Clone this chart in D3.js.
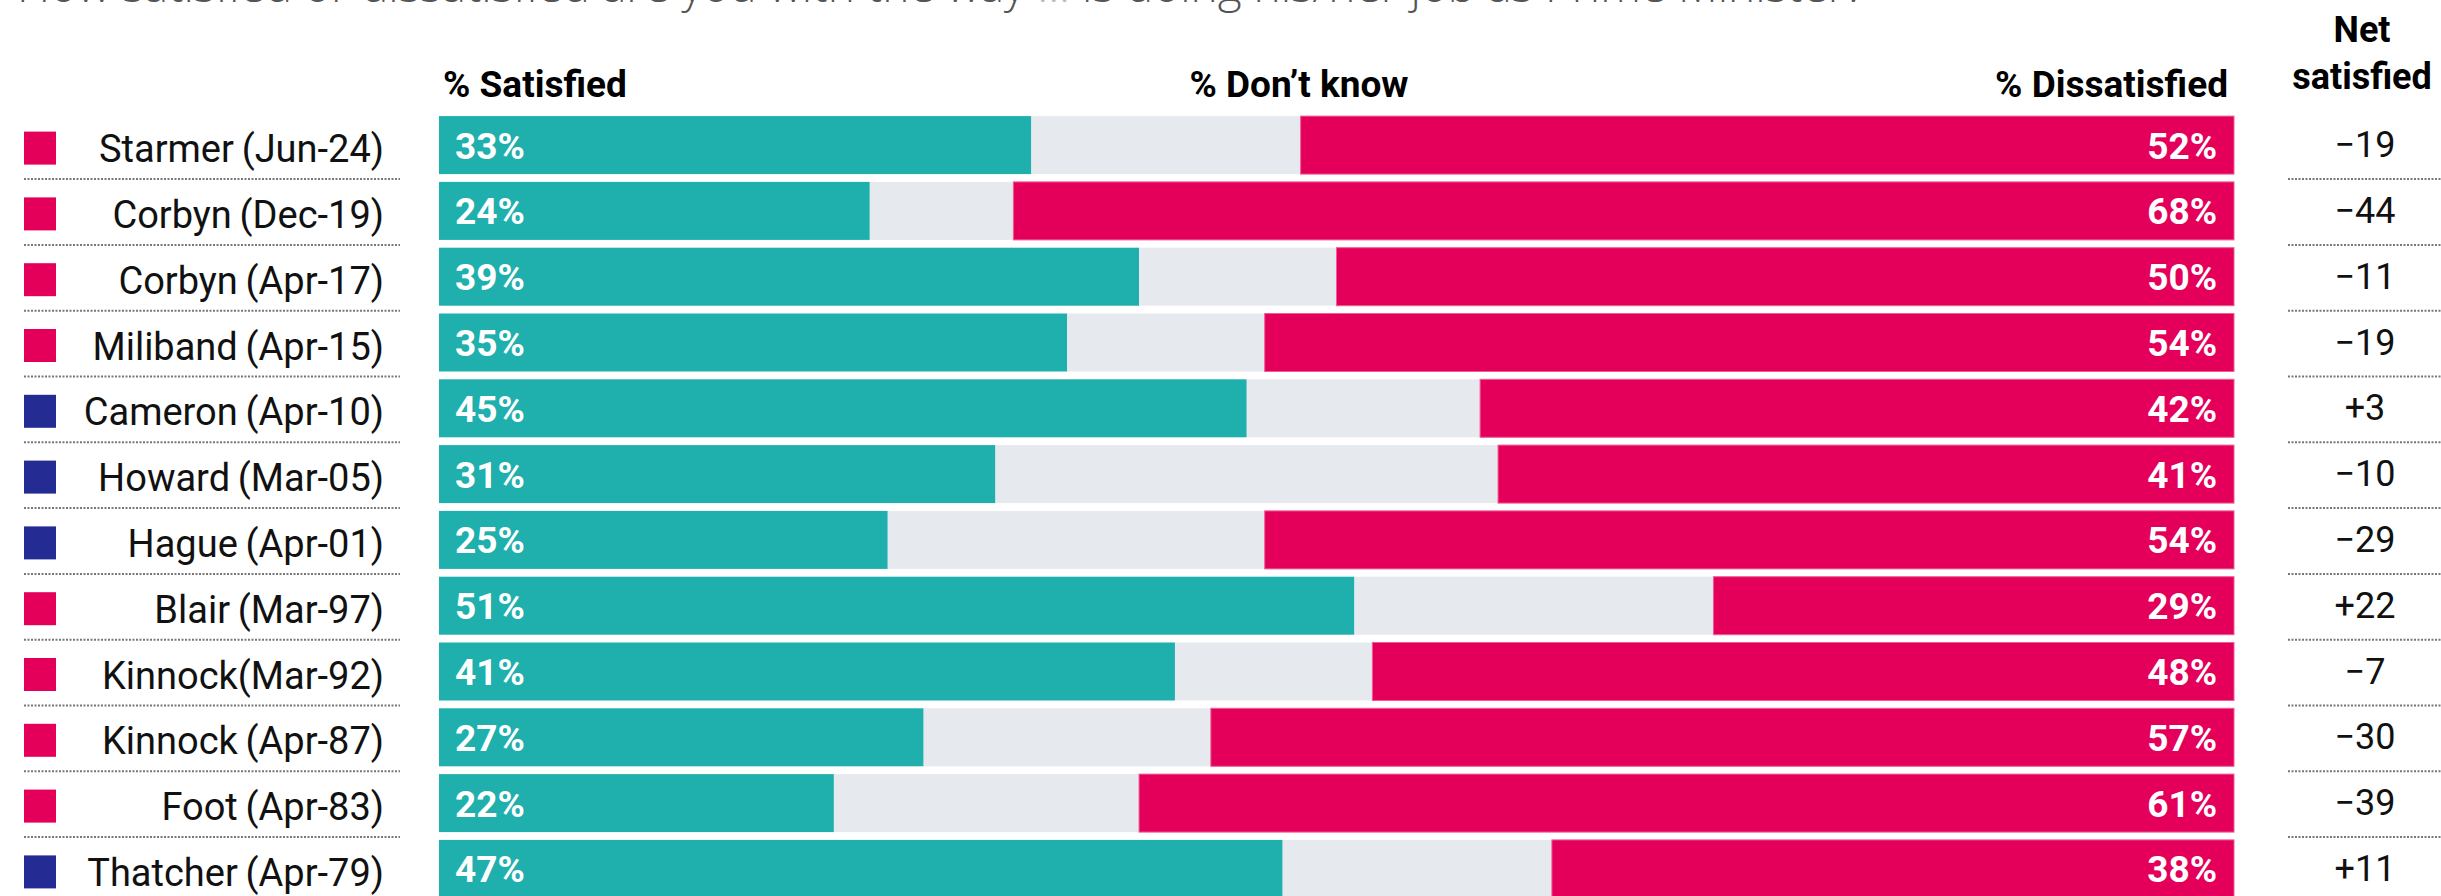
<!DOCTYPE html>
<html>
<head>
<meta charset="utf-8">
<script src="https://cdn.jsdelivr.net/npm/d3@7"></script>
<style>
  body { margin: 0; background: #fff; }
  svg { display: block; }
  text { font-family: Roboto, "Liberation Sans", sans-serif; }
</style>
</head>
<body>
<svg id="chart" width="2441" height="896"></svg>
<script>

let leaders = ["Starmer\u2009(Jun-24)", "Corbyn\u2009(Dec-19)", "Corbyn\u2009(Apr-17)", "Miliband\u2009(Apr-15)",
               "Cameron\u2009(Apr-10)", "Howard\u2009(Mar-05)", "Hague\u2009(Apr-01)", "Blair\u2009(Mar-97)",
               "Kinnock(Mar-92)", "Kinnock\u2009(Apr-87)", "Foot\u2009(Apr-83)", "Thatcher\u2009(Apr-79)"]
let party = ["lab", "lab", "lab", "lab", "con", "con", "con", "lab", "lab", "lab", "lab", "con"]
let satisfied    = [33, 24, 39, 35, 45, 31, 25, 51, 41, 27, 22, 47]
let dont_know    = [15,  8, 11, 11, 13, 28, 21, 20, 11, 16, 17, 15]
let dissatisfied = [52, 68, 50, 54, 42, 41, 54, 29, 48, 57, 61, 38]
let net_satisfied = [-19, -44, -11, -19, 3, -10, -29, 22, -7, -30, -39, 11]

let headers = ["% Satisfied", "% Don\u2019t know", "% Dissatisfied"]
let net_header = ["Net", "satisfied"]
let title_text = ["How satisfied or dissatisfied are you with the way ", "...", " is doing his/her job as Prime Minister?"]

let party_col = { lab: "#e4005a", con: "#242c94" }
let seg_col = { sat: "#1fafad", dk: "#e6e9ee", dis: "#e4005a" }

let svg = d3.select("#chart")

let x = d3.scaleLinear()
    .domain([0, 100])
    .range([439, 2234])

let step = 65.8
let y = d3.scaleBand()
    .domain(d3.range(leaders.length))
    .range([120 - 3.9, 120 - 3.9 + step * leaders.length])
    .paddingInner(7.8 / step)
    .paddingOuter(3.9 / step)
    .align(0)

let rows = leaders.map((name, i) => ({
    i: i, name: name, party: party[i],
    segs: [
        { key: "sat", v0: 0, v1: satisfied[i] },
        { key: "dk",  v0: satisfied[i], v1: satisfied[i] + dont_know[i] },
        { key: "dis", v0: satisfied[i] + dont_know[i], v1: satisfied[i] + dont_know[i] + dissatisfied[i] }
    ]
}))

let cy = i => y(i) + y.bandwidth() / 2

// title, cut off at the top edge like the source
let title = svg.append("text")
    .attr("x", 17)
    .attr("y", 2)
    .style("font-family", "'Open Sans', sans-serif")
    .style("font-weight", 300)
    .style("font-size", "46px")
    .attr("fill", "#555")
title.selectAll("tspan")
    .data(title_text)
    .join("tspan")
        .attr("fill", (d, i) => i == 1 ? "#bbb" : "#555")
        .text(d => d)

// column headers
let header_x = [443, 1299, 2228]
let header_anchor = ["start", "middle", "end"]
svg.selectAll(".header")
    .data(headers)
    .join("text")
        .attr("class", "header")
        .attr("x", (d, i) => header_x[i])
        .attr("y", 97)
        .attr("text-anchor", (d, i) => header_anchor[i])
        .style("font-weight", 700)
        .style("font-size", "37px")
        .attr("fill", "#000")
        .text(d => d)

svg.selectAll(".net_header")
    .data(net_header)
    .join("text")
        .attr("class", "net_header")
        .attr("x", 2362)
        .attr("y", (d, i) => 42 + i * 47)
        .attr("text-anchor", "middle")
        .style("font-weight", 700)
        .style("font-size", "36px")
        .attr("fill", "#000")
        .text(d => d)

let row = svg.selectAll(".row")
    .data(rows)
    .join("g")
        .attr("class", "row")

// dotted separators, left and right
row.append("line")
    .attr("x1", 24).attr("x2", 400)
    .attr("y1", d => y(d.i) + y.bandwidth() + 5)
    .attr("y2", d => y(d.i) + y.bandwidth() + 5)
    .attr("stroke", "#777")
    .attr("stroke-width", 2)
    .attr("stroke-dasharray", "2,1.5")

row.append("line")
    .attr("x1", 2288).attr("x2", 2441)
    .attr("y1", d => y(d.i) + y.bandwidth() + 5)
    .attr("y2", d => y(d.i) + y.bandwidth() + 5)
    .attr("stroke", "#777")
    .attr("stroke-width", 2)
    .attr("stroke-dasharray", "2,1.5")

// party square
row.append("rect")
    .attr("x", 24)
    .attr("y", d => cy(d.i) + 3 - 16.5)
    .attr("width", 32)
    .attr("height", 33)
    .attr("fill", d => party_col[d.party])

row.append("text")
    .attr("x", 384)
    .attr("y", d => cy(d.i) + 17)
    .attr("text-anchor", "end")
    .style("font-size", "38px")
    .attr("fill", "#111")
    .text(d => d.name)

// stacked bar
row.selectAll(".seg")
    .data(d => d.segs.map(s => Object.assign({ i: d.i }, s)))
    .join("rect")
        .attr("class", "seg")
        .attr("x", d => x(d.v0))
        .attr("y", d => y(d.i))
        .attr("width", d => x(d.v1) - x(d.v0))
        .attr("height", y.bandwidth())
        .attr("fill", d => seg_col[d.key])
        .attr("stroke", d => d.key == "dis" ? "#ef5d93" : "none")
        .attr("stroke-width", 1)

row.append("text")
    .attr("x", x(0) + 16)
    .attr("y", d => cy(d.i) + 13.5)
    .style("font-weight", 700)
    .style("font-size", "37px")
    .attr("fill", "#fff")
    .text(d => satisfied[d.i] + "%")

row.append("text")
    .attr("x", x(100) - 17)
    .attr("y", d => cy(d.i) + 13.5)
    .attr("text-anchor", "end")
    .style("font-weight", 700)
    .style("font-size", "37px")
    .attr("fill", "#fff")
    .text(d => dissatisfied[d.i] + "%")

let fmt = d3.format("+d")
row.append("text")
    .attr("x", 2365)
    .attr("y", d => cy(d.i) + 12)
    .attr("text-anchor", "middle")
    .style("font-size", "36px")
    .attr("fill", "#111")
    .text(d => fmt(net_satisfied[d.i]))

</script>
</body>
</html>
